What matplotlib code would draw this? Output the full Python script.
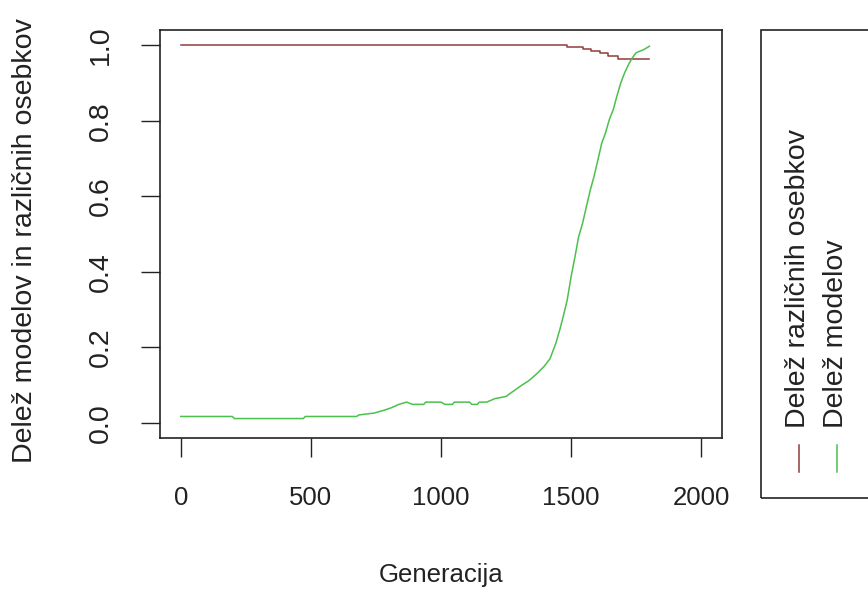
import matplotlib
matplotlib.use("Agg")
import matplotlib.pyplot as plt
from matplotlib.lines import Line2D
from matplotlib.patches import Rectangle

# ---- data ----
gen_models = [0, 198, 206, 471, 478, 676, 684, 743, 779, 809, 838, 868, 890, 934, 941,
              1000, 1015, 1044, 1051, 1110, 1118, 1140, 1147, 1176, 1206, 1250, 1272,
              1309, 1338, 1368, 1397, 1419, 1441, 1456, 1471, 1485, 1500, 1515, 1529,
              1544, 1559, 1574, 1588, 1603, 1618, 1632, 1647, 1662, 1676, 1691, 1706,
              1721, 1735, 1750, 1779, 1801]
share_models = [0.017, 0.017, 0.0115, 0.0115, 0.017, 0.017, 0.021, 0.026, 0.033, 0.040,
                0.049, 0.055, 0.049, 0.049, 0.055, 0.055, 0.049, 0.049, 0.055, 0.055,
                0.049, 0.049, 0.055, 0.055, 0.064, 0.070, 0.081, 0.099, 0.112, 0.130,
                0.150, 0.170, 0.210, 0.245, 0.285, 0.325, 0.387, 0.440, 0.493, 0.528,
                0.573, 0.617, 0.652, 0.696, 0.741, 0.767, 0.803, 0.829, 0.865, 0.900,
                0.927, 0.949, 0.966, 0.980, 0.988, 0.997]

gen_distinct = [0, 1478, 1485, 1530, 1545, 1570, 1575, 1600, 1610, 1632, 1640, 1674, 1680, 1801]
share_distinct = [1.0, 1.0, 0.995, 0.995, 0.990, 0.990, 0.984, 0.984, 0.980, 0.980,
                  0.971, 0.971, 0.962, 0.962]

xticks = [0, 500, 1000, 1500, 2000]
xtick_labels = ["0", "500", "1000", "1500", "2000"]
yticks = [0.0, 0.2, 0.4, 0.6, 0.8, 1.0]
ytick_labels = ["0.0", "0.2", "0.4", "0.6", "0.8", "1.0"]

legend_labels = ["Delež različnih osebkov", "Delež modelov"]
col_distinct = "#8f3c3c"
col_models = "#4cc04c"

# ---- figure ----
W, H = 868, 596
plt.rcParams['font.family'] = ['Liberation Sans', 'DejaVu Sans']
fig = plt.figure(figsize=(W / 100, H / 100), dpi=100)
L, R, T, B = 160, 722, 30, 438
ax = fig.add_axes([L / W, (H - B) / H, (R - L) / W, (B - T) / H])

ax.plot(gen_distinct, share_distinct, color=col_distinct, lw=1.1, drawstyle='steps-post')
ax.plot(gen_models, share_models, color=col_models, lw=1.1)

fs = 18.5      # horizontal text
fsv = 20.5     # vertical text

ax.set_xlim(-80, 2080)
ax.set_ylim(-0.04, 1.04)
ax.set_xticks(xticks)
ax.set_xticklabels(xtick_labels)
ax.set_yticks(yticks)
ax.set_yticklabels(ytick_labels, rotation=90, va='center', fontsize=fsv)

for s in ax.spines.values():
    s.set_linewidth(1.2)
    s.set_color('#222222')
ax.tick_params(axis='both', direction='out', length=13.5, width=1.0, color='#222222',
               labelcolor='#222222')
ax.tick_params(axis='x', pad=21, labelsize=fs)
ax.tick_params(axis='y', pad=20)

ax.set_xlabel("Generacija", fontsize=fs, color='#222222', va='center')
ax.xaxis.set_label_coords(0.5, (H - 575 - (H - B)) / (B - T))
ax.set_ylabel("Delež modelov in različnih osebkov", fontsize=fsv, color='#222222', va='center')
ax.yaxis.set_label_coords((25 - L) / (R - L), (H - 241 - (H - B)) / (B - T))

# ---- rotated legend ----
def fx(px):
    return px / W

def fy(py):
    return (H - py) / H

fig.patches.append(Rectangle((fx(761), fy(498)), fx(200), (498 - 30) / H,
                             transform=fig.transFigure, fill=False,
                             edgecolor='#222222', lw=1.2))
for xc, lab, col in [(799, legend_labels[0], col_distinct), (837, legend_labels[1], col_models)]:
    fig.lines.append(Line2D([fx(xc), fx(xc)], [fy(445), fy(472)],
                            transform=fig.transFigure, color=col, lw=1.1))
    fig.text(fx(xc - 1), fy(428), lab, rotation=90, ha='center', va='bottom',
             fontsize=fsv, color='#222222')

fig.savefig("out.png", dpi=100)
